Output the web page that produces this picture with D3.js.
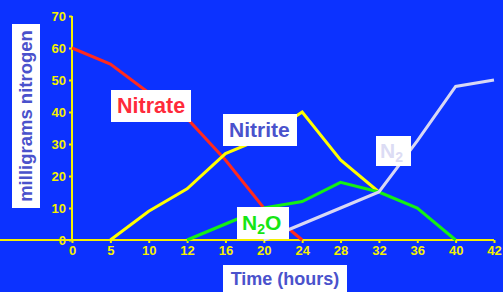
<!DOCTYPE html>
<html><head><meta charset="utf-8">
<script src="https://cdn.jsdelivr.net/npm/d3@7"></script>
<style>html,body{margin:0;padding:0;background:#0c32ff;overflow:hidden}</style>
</head><body><svg id="c" width="503" height="292"></svg>
<script>
const hours = ["0","5","10","12","16","20","24","28","32","36","40","42"];
const yTicks = [0,10,20,30,40,50,60,70];
const nitrate = [["0",60],["5",55],["10",46],["12",38],["16",25],["20",10],["24",0]];
const nitrite = [["5",0],["10",9],["12",16],["16",27],["20",32],["24",40],["28",25],["32",15]];
const n2o = [["12",0],["16",5],["20",10],["24",12],["28",18],["32",15],["36",10],["40",0]];
const n2 = [["20",0],["24",5],["28",10],["32",15],["36",31],["40",48],["42",50]];

const svg = d3.select("#c");
svg.append("rect").attr("width",503).attr("height",292).attr("fill","#0c32ff");
const x = d3.scalePoint().domain(hours).range([72,494]);
const y = d3.scaleLinear().domain([0,70]).range([240,16]);
const axisCol = "#f5f000";
const font = "Arial, 'Liberation Sans', sans-serif";

const xa = svg.append("g").attr("transform","translate(0,240)").call(d3.axisBottom(x).tickSize(3).tickPadding(3));
const ya = svg.append("g").attr("transform","translate(72,0)").call(d3.axisLeft(y).tickValues(yTicks).tickSize(3).tickPadding(3));
[xa,ya].forEach(a=>{
  a.selectAll("path").attr("stroke",axisCol).attr("stroke-width",2);
  a.selectAll("line").attr("stroke",axisCol).attr("stroke-width",2);
  a.selectAll("text").attr("fill",axisCol).attr("font-family",font).attr("font-weight","bold").attr("font-size",13);
});
ya.select(".domain").attr("d","M0,240V16");
xa.select(".domain").attr("d","M0,0H494");

const line = d3.line().x(d=>x(d[0])).y(d=>y(d[1]));
const series = [[nitrate,"#ff2a1e"],[nitrite,"#ffff00"],[n2o,"#14f014"],[n2,"#d8d8f4"]];
series.forEach(([d,c])=>{
  svg.append("path").datum(d).attr("d",line).attr("fill","none").attr("stroke",c).attr("stroke-width",3).attr("stroke-linejoin","miter");
});

function box(x0,y0,w,h){svg.append("rect").attr("x",x0).attr("y",y0).attr("width",w).attr("height",h).attr("fill","#fff");}
// Nitrate label
box(111,90,80,32);
svg.append("text").attr("x",117).attr("y",113).attr("fill","#ff2a3a").attr("font-family",font).attr("font-weight","bold").attr("font-size",21.5).text("Nitrate");
// Nitrite label
box(223,114,74,32);
svg.append("text").attr("x",229).attr("y",137).attr("fill","#4a52cc").attr("font-family",font).attr("font-weight","bold").attr("font-size",21).text("Nitrite");
// N2O label
box(237,207,52,32);
const t1 = svg.append("text").attr("x",242).attr("y",230).attr("fill","#14e614").attr("font-family",font).attr("font-weight","bold").attr("font-size",21);
t1.append("tspan").text("N");
t1.append("tspan").attr("font-size",14).attr("dy",4).text("2");
t1.append("tspan").attr("dy",-4).text("O");
// N2 label
box(376,136,35,30);
const t2 = svg.append("text").attr("x",380).attr("y",158).attr("fill","#dcdcf4").attr("font-family",font).attr("font-weight","bold").attr("font-size",21);
t2.append("tspan").text("N");
t2.append("tspan").attr("font-size",14).attr("dy",4).text("2");
// Axis titles
box(12,24,28,184);
svg.append("text").attr("transform","translate(32,116) rotate(-90)").attr("text-anchor","middle").attr("fill","#4a52cc").attr("font-family",font).attr("font-weight","bold").attr("font-size",18.5).text("milligrams nitrogen");
box(223,265,124,27);
svg.append("text").attr("x",285).attr("y",285).attr("text-anchor","middle").attr("fill","#4a52cc").attr("font-family",font).attr("font-weight","bold").attr("font-size",18).text("Time (hours)");
</script></body></html>
